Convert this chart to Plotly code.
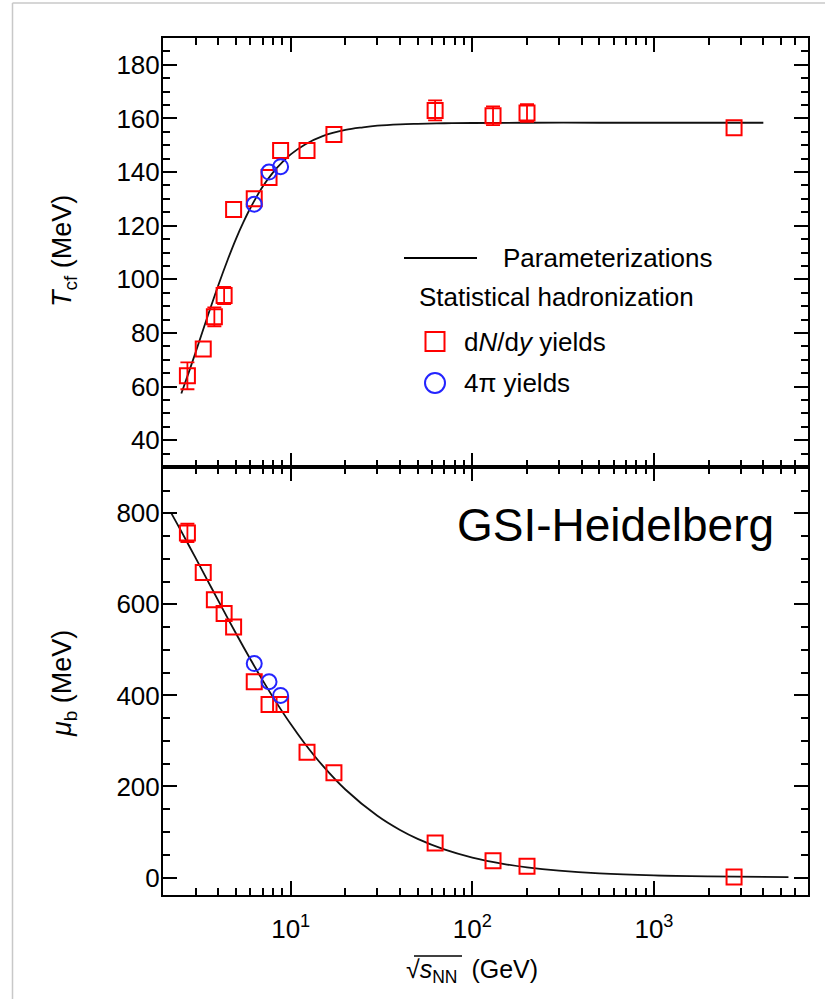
import plotly.graph_objects as go

# ---------------- data ----------------
# Chemical freeze-out temperature (top panel)
sqrt_s_sq = [2.7, 3.3, 3.8, 4.3, 4.85, 6.3, 7.6, 8.8, 12.3, 17.3, 62.4, 130, 200, 2760]
T_sq = [64, 74, 86, 94, 126, 130, 138, 148, 148, 154, 163, 161, 162, 156.5]
T_sq_err = [5, 0, 3.5, 3.2, 0, 0, 0, 0, 0, 0, 3.7, 3.5, 3.3, 0]

sqrt_s_circ = [6.3, 7.6, 8.8]
T_circ = [128, 140, 142]

curve_T_x = [2.5, 2.75, 3, 3.5, 4, 4.5, 5, 5.5, 6, 7, 8, 9, 10, 12, 15, 20, 25, 30, 40,
             50, 70, 100, 200, 500, 1000, 2000, 4000]
curve_T_y = [57.4, 65.4, 72.9, 86.5, 97.9, 107.3, 115.1, 121.4, 126.6, 134.5, 139.9, 143.7,
             146.6, 150.3, 153.4, 155.7, 156.7, 157.3, 157.8, 158.0, 158.2, 158.3, 158.4,
             158.4, 158.4, 158.4, 158.4]

# Baryochemical potential (bottom panel)
mu_sq = [757, 670, 610, 580, 550, 430, 380, 380, 275, 230, 76, 37, 25, 1]
mu_sq_err = [20, 0, 0, 0, 0, 0, 0, 0, 0, 0, 0, 0, 0, 0]
mu_circ = [470, 430, 400]

curve_mu_x = [2.2, 2.5, 3, 3.5, 4, 5, 6, 7, 8, 10, 12, 15, 20, 30, 40, 50, 70, 100, 150,
              200, 300, 500, 1000, 2000, 5500]
curve_mu_y = [800.4, 760.2, 701.4, 651.1, 607.6, 535.9, 479.3, 433.5, 395.7, 337.0, 293.4,
              245.8, 193.4, 135.6, 104.4, 84.9, 61.8, 43.9, 29.6, 22.3, 15.0, 9.0, 4.5,
              2.3, 0.8]

x_tick_vals = [10, 100, 1000]
x_tick_text = ["10<sup>1</sup>", "10<sup>2</sup>", "10<sup>3</sup>"]

legend_labels = ["Parameterizations", "Statistical hadronization",
                 "d<i>N</i>/d<i>y</i> yields", "4\u03c0 yields"]

# ---------------- layout geometry ----------------
W, H = 825, 999
L, R, T, B = 163, 808, 38, 895
SPLIT = 467
PW, PH = R - L, B - T
FONT = "Liberation Sans, Arial, Helvetica, sans-serif"
RED = "#ff0000"
BLUE = "#2424ff"


def px(xp):
    return (xp - L) / PW


def py(yp):
    return 1 - (yp - T) / PH


split_frac = py(SPLIT)

fig = go.Figure()


def split_err(xs, ys, errs):
    a = [(x, y, e) for x, y, e in zip(xs, ys, errs) if e > 0]
    b = [(x, y) for x, y, e in zip(xs, ys, errs) if e <= 0]
    return a, b


sq_style = dict(symbol="square-open", size=15, color=RED, line=dict(width=2, color=RED))
ci_style = dict(symbol="circle-open", size=15, color=BLUE, line=dict(width=2, color=BLUE))

for (ys, errs, circ, cx, cy, xa, ya) in [
    (T_sq, T_sq_err, T_circ, curve_T_x, curve_T_y, "x2", "y2"),
    (mu_sq, mu_sq_err, mu_circ, curve_mu_x, curve_mu_y, "x", "y"),
]:
    fig.add_trace(go.Scatter(x=cx, y=cy, mode="lines", line=dict(color="#111111", width=1.8, shape="spline"),
                             xaxis=xa, yaxis=ya, showlegend=False, hoverinfo="skip"))
    with_err, no_err = split_err(sqrt_s_sq, ys, errs)
    fig.add_trace(go.Scatter(x=[p[0] for p in no_err], y=[p[1] for p in no_err], mode="markers",
                             marker=sq_style, xaxis=xa, yaxis=ya, showlegend=False))
    fig.add_trace(go.Scatter(x=[p[0] for p in with_err], y=[p[1] for p in with_err], mode="markers",
                             marker=sq_style, xaxis=xa, yaxis=ya, showlegend=False,
                             error_y=dict(type="data", array=[p[2] for p in with_err], color=RED,
                                          thickness=1.8, width=7)))
    fig.add_trace(go.Scatter(x=sqrt_s_circ, y=circ, mode="markers", marker=ci_style,
                             xaxis=xa, yaxis=ya, showlegend=False))

minor_x = [m * 10 ** k for k in range(0, 4) for m in range(2, 10)]
minor_x = [v for v in minor_x if v not in x_tick_vals]

xcommon = dict(type="log", range=[0.297, 3.848], showline=True, linewidth=2, linecolor="black",
               mirror="allticks", ticks="inside", ticklen=14, tickwidth=2, tickcolor="black",
               tickmode="array", tickvals=x_tick_vals, showgrid=False, zeroline=False,
               minor=dict(tickmode="array", tickvals=minor_x, ticks="inside", ticklen=7,
                          tickwidth=2, tickcolor="black", showgrid=False))

fig.update_layout(
    width=W, height=H,
    margin=dict(l=L, r=W - R, t=T, b=H - B, pad=0),
    paper_bgcolor="white", plot_bgcolor="white",
    font=dict(family=FONT, size=26, color="black"),
    showlegend=False,
    xaxis=dict(**xcommon, anchor="y", domain=[0, 1], ticktext=x_tick_text,
               tickfont=dict(size=26), ticklabelstandoff=10),
    xaxis2=dict(**xcommon, anchor="y2", matches="x", showticklabels=False),
    yaxis=dict(domain=[0, split_frac], range=[-38.4, 901.7], showline=True, linewidth=2,
               linecolor="black", mirror="allticks", ticks="inside", ticklen=14, tickwidth=2,
               tickcolor="black", dtick=200, tick0=0, showgrid=False, zeroline=False,
               tickfont=dict(size=26), ticklabelstandoff=-4,
               minor=dict(dtick=50, ticks="inside", ticklen=7, tickwidth=2, tickcolor="black",
                          showgrid=False)),
    yaxis2=dict(domain=[split_frac, 1], range=[30, 190], showline=True, linewidth=2,
                linecolor="black", mirror="allticks", ticks="inside", ticklen=14, tickwidth=2,
                tickcolor="black", dtick=20, tick0=0, showgrid=False, zeroline=False,
                tickfont=dict(size=26), ticklabelstandoff=-4,
                minor=dict(dtick=5, ticks="inside", ticklen=7, tickwidth=2, tickcolor="black",
                           showgrid=False)),
)

ann = []
# axis titles
ann.append(dict(text="<i>T</i><sub>cf</sub> (MeV)", x=px(64), y=py(251), textangle=-90,
                font=dict(size=27)))
ann.append(dict(text="<i>\u03bc</i><sub>b</sub> (MeV)", x=px(64), y=py(683), textangle=-90,
                font=dict(size=27)))
ann.append(dict(text="\u221a<i>s</i><sub>NN</sub>  (GeV)", x=px(472), y=py(971),
                font=dict(size=25)))
# panel label
ann.append(dict(text="GSI-Heidelberg", x=px(776), y=py(525), xanchor="right",
                font=dict(size=46)))
# legend texts
ann.append(dict(text=legend_labels[0], x=px(501), y=py(258), xanchor="left", font=dict(size=26)))
ann.append(dict(text=legend_labels[1], x=px(417), y=py(297), xanchor="left", font=dict(size=26)))
ann.append(dict(text=legend_labels[2], x=px(462), y=py(342), xanchor="left", font=dict(size=26)))
ann.append(dict(text=legend_labels[3], x=px(462), y=py(383), xanchor="left", font=dict(size=26)))
for a in ann:
    a.update(xref="paper", yref="paper", showarrow=False, yanchor=a.get("yanchor", "middle"),
             xanchor=a.get("xanchor", "center"))
fig.update_layout(annotations=ann)

shapes = [
    # legend line
    dict(type="line", x0=px(404), x1=px(477), y0=py(258), y1=py(258), line=dict(color="black", width=2)),
    # legend square
    dict(type="rect", x0=px(425.5), x1=px(444.5), y0=py(332), y1=py(351), line=dict(color=RED, width=2)),
    # legend circle
    dict(type="circle", x0=px(425), x1=px(445), y0=py(373), y1=py(393), line=dict(color=BLUE, width=2)),
    # overline of the radical
    dict(type="line", x0=px(414), x1=px(462), y0=py(956), y1=py(956), line=dict(color="black", width=1.5)),
    # light frame
    dict(type="line", x0=px(12.5), x1=px(825), y0=py(3), y1=py(3), line=dict(color="#c8c8c8", width=1.5)),
    dict(type="line", x0=px(12.5), x1=px(12.5), y0=py(3), y1=py(999), line=dict(color="#c8c8c8", width=1.5)),
]
for s in shapes:
    s.update(xref="paper", yref="paper")
fig.update_layout(shapes=shapes)

fig.write_html("out.html")
